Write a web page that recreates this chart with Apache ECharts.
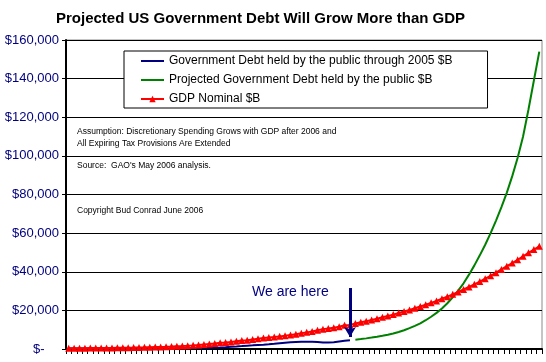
<!DOCTYPE html>
<html>
<head>
<meta charset="utf-8">
<script src="https://cdn.jsdelivr.net/npm/echarts@6/dist/echarts.min.js"></script>
<style>html,body{margin:0;padding:0;background:#fff;}#c{width:546px;height:362px;}</style>
</head>
<body>
<div id="c"></div>
<script>
// Years 1953..2040
var histYears = ['1953','1954','1955','1956','1957','1958','1959','1960','1961','1962','1963','1964','1965','1966','1967','1968','1969','1970','1971','1972','1973','1974','1975','1976','1977','1978','1979','1980','1981','1982','1983','1984','1985','1986','1987','1988','1989','1990','1991','1992','1993','1994','1995','1996','1997','1998','1999','2000','2001','2002','2003','2004','2005'];
var projYears = ['2006','2007','2008','2009','2010','2011','2012','2013','2014','2015','2016','2017','2018','2019','2020','2021','2022','2023','2024','2025','2026','2027','2028','2029','2030','2031','2032','2033','2034','2035','2036','2037','2038','2039','2040'];

// Government debt held by the public through 2005, $B
var debtHistory = [218,225,227,222,219,226,235,237,238,248,254,257,261,264,267,290,278,283,303,322,341,344,395,477,549,607,640,712,789,925,1137,1307,1507,1741,1890,2052,2191,2412,2689,3000,3248,3433,3604,3734,3772,3721,3632,3410,3320,3540,3913,4296,4592];

// Projected government debt held by the public, $B
var debtProjected = [4850,5150,5500,5900,6350,6850,7400,8000,8800,9700,10800,12000,13300,14900,16700,18700,21000,23700,26800,30200,34000,38500,43300,48500,54000,60000,66500,73500,81000,89500,99000,110000,124000,139000,154000];

// GDP nominal, $B (history + projection)
var gdpHistory = [390,391,426,450,475,482,523,543,563,605,639,686,744,815,862,943,1020,1076,1168,1282,1429,1549,1689,1878,2086,2357,2632,2863,3211,3345,3638,4041,4347,4590,4870,5253,5658,5980,6174,6539,6879,7309,7664,8100,8609,9089,9666,10290,10625,10980,11512,12277,12456];
var gdpProjected = [13200,13800,14400,15000,15700,16400,17100,17800,18600,19400,20200,21100,22000,22900,23900,24900,26000,27100,28300,29500,30800,32100,33500,34900,36400,37900,39500,41200,42900,44500,46200,48000,49800,51500,53200];

var seriesNames = ['Government Debt held by the public through 2005 $B','Projected Government Debt held by the public $B','GDP Nominal $B'];
var arrowYear = '2005';
var arrowFrom = 31600, arrowTo = 6200;

var years = histYears.concat(projYears);
var blueData = debtHistory.concat(projYears.map(function(){return null;}));
var greenData = histYears.map(function(){return null;}).concat(debtProjected);
var redData = gdpHistory.concat(gdpProjected);

var FONT = 'Arial, "Liberation Sans", sans-serif';
var chart = echarts.init(document.getElementById('c'), null, {renderer:'canvas'});
chart.setOption({
  animation: false,
  backgroundColor: '#fff',
  title: {
    text: 'Projected US Government Debt Will Grow More than GDP',
    left: 51, top: 6,
    textStyle: {fontFamily: FONT, fontSize: 15, fontWeight: 'bold', color: '#000'}
  },
  grid: {left: 66, right: 4, top: 40, bottom: 13, show: true, borderColor: '#8a8a8a', borderWidth: 1, backgroundColor: 'transparent'},
  legend: {
    orient: 'vertical', left: 124, top: 51,
    padding: [3, 35, 2, 16], itemGap: 5, itemWidth: 23, itemHeight: 8,
    backgroundColor: '#fff', borderColor: '#000', borderWidth: 1,
    textStyle: {fontFamily: FONT, fontSize: 12, color: '#000', lineHeight: 14},
    data: [
      {name: seriesNames[0], itemStyle: {opacity: 0}},
      {name: seriesNames[1], itemStyle: {opacity: 0}},
      {name: seriesNames[2]}
    ]
  },
  xAxis: {
    type: 'category', data: years, boundaryGap: true,
    axisLine: {show: true, lineStyle: {color: '#000', width: 2}},
    axisTick: {show: true, interval: 0, length: 5, lineStyle: {color: '#000', width: 1}},
    axisLabel: {show: false},
    splitLine: {show: false}
  },
  yAxis: {
    type: 'value', min: 0, max: 160000, interval: 20000,
    axisLine: {show: true, lineStyle: {color: '#000', width: 2}},
    axisTick: {show: true, length: 4, lineStyle: {color: '#000'}},
    axisLabel: {
      fontFamily: FONT, fontSize: 13, color: '#000080', margin: 7,
      formatter: function(v){ return v === 0 ? '$-    ' : '$' + v.toLocaleString('en-US'); }
    },
    splitLine: {show: true, lineStyle: {color: '#000', width: 1}}
  },
  series: [
    {
      name: seriesNames[0], type: 'line', data: blueData, symbol: 'none',
      lineStyle: {color: '#000080', width: 2}, itemStyle: {color: '#000080'},
      connectNulls: false, z: 2,
      markLine: {
        silent: true, symbol: ['none', 'arrow'], symbolSize: [9, 10],
        lineStyle: {color: '#000080', width: 3, type: 'solid'},
        label: {show: false},
        data: [[{coord: [arrowYear, arrowFrom]}, {coord: [arrowYear, arrowTo]}]]
      }
    },
    {
      name: seriesNames[1], type: 'line', data: greenData, symbol: 'none',
      lineStyle: {color: '#008000', width: 2}, itemStyle: {color: '#008000'},
      connectNulls: false, z: 3
    },
    {
      name: seriesNames[2], type: 'line', data: redData, symbol: 'triangle', symbolSize: 7,
      showAllSymbol: true,
      lineStyle: {color: '#ff0000', width: 2}, itemStyle: {color: '#ff0000'}, z: 4
    }
  ],
  graphic: [
    {type: 'text', left: 77, top: 126, style: {text: 'Assumption: Discretionary Spending Grows with GDP after 2006 and\nAll Expiring Tax Provisions Are Extended', font: '8.5px ' + FONT, fill: '#000', lineHeight: 12}},
    {type: 'text', left: 77, top: 161, style: {text: "Source:  GAO's May 2006 analysis.", font: '8.5px ' + FONT, fill: '#000'}},
    {type: 'text', left: 77, top: 206, style: {text: 'Copyright Bud Conrad June 2006', font: '8.5px ' + FONT, fill: '#000'}},
    {type: 'text', left: 252, top: 285, style: {text: 'We are here', font: '14px ' + FONT, fill: '#000080'}}
  ]
});
</script>
</body>
</html>
